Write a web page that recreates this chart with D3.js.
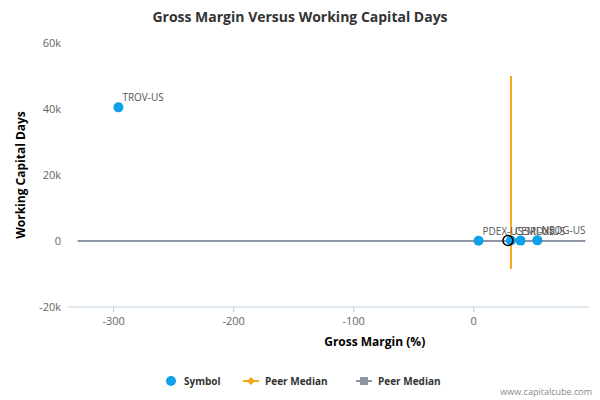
<!DOCTYPE html><html><head><meta charset="utf-8"><script src="https://cdn.jsdelivr.net/npm/d3@7"></script>
<style>body{margin:0;background:#fff}text{font-family:"Open Sans",Arial,sans-serif}</style></head><body><svg id="c" width="600" height="400"></svg>
<script>
const names=["TROV-US","PDEX-US","CEMI-US","SRDX-US","NEOG-US"];
const gm=[-296,4,31,39,53];
const wcd=[40500,100,150,120,200];
const medX=31, medY=0;
const xTicks=[-300,-200,-100,0];
const yTicks=[-20000,0,20000,40000,60000];
const svg=d3.select("#c");
const x=d3.scaleLinear().domain([-338,96]).range([68,589]);
const y=d3.scaleLinear().domain([-20000,60000]).range([307,43]);
svg.append("text").attr("x",300).attr("y",22).attr("text-anchor","middle").style("font-size","14px").style("font-weight","bold").attr("fill","#333").text("Gross Margin Versus Working Capital Days");
svg.append("line").attr("x1",68).attr("x2",589).attr("y1",y(-20000)).attr("y2",y(-20000)).attr("stroke","#c0d0e0");
xTicks.forEach(t=>{svg.append("line").attr("x1",x(t)).attr("x2",x(t)).attr("y1",307).attr("y2",312).attr("stroke","#c0d0e0");
svg.append("text").attr("x",x(t)).attr("y",325).attr("text-anchor","middle").style("font-size","11px").attr("fill","#666").text(t);});
yTicks.forEach(t=>svg.append("text").attr("x",61).attr("y",y(t)+4).attr("text-anchor","end").style("font-size","11px").attr("fill","#666").text(t===0?"0":(t/1000)+"k"));
svg.append("text").attr("x",x(-100)+21).attr("y",346).attr("text-anchor","middle").style("font-size","12px").style("font-weight","bold").attr("fill","#000").text("Gross Margin (%)");
svg.append("text").attr("transform","translate(25,175) rotate(-90)").attr("text-anchor","middle").style("font-size","12px").style("font-weight","bold").attr("fill","#000").text("Working Capital Days");
svg.append("line").attr("x1",x(-330)).attr("x2",x(93)).attr("y1",y(medY)).attr("y2",y(medY)).attr("stroke","#8e96a6").attr("stroke-width",2);
svg.append("line").attr("x1",x(medX)).attr("x2",x(medX)).attr("y1",y(50000)).attr("y2",y(-8500)).attr("stroke","#f7a71e").attr("stroke-width",2);
names.forEach((n,i)=>{
 svg.append("circle").attr("cx",x(gm[i])).attr("cy",y(wcd[i])).attr("r",5).attr("fill","#0fa0ea");
 svg.append("text").attr("x",x(gm[i])+4).attr("y",y(wcd[i])-6).style("font-size","10px").attr("fill","#555").text(n);
});
svg.append("circle").attr("cx",x(gm[2])-3).attr("cy",y(wcd[2])).attr("r",5).attr("fill","none").attr("stroke","#000").attr("stroke-width",1.5);
// legend
svg.append("circle").attr("cx",171).attr("cy",381).attr("r",5).attr("fill","#0fa0ea");
svg.append("text").attr("x",184).attr("y",385).style("font-size","10px").style("font-weight","bold").attr("fill","#333").text("Symbol");
svg.append("line").attr("x1",243).attr("x2",259).attr("y1",381).attr("y2",381).attr("stroke","#f7a71e").attr("stroke-width",2);
svg.append("path").attr("d","M251,377L255,381L251,385L247,381Z").attr("fill","#f7a71e");
svg.append("text").attr("x",265).attr("y",385).style("font-size","10px").style("font-weight","bold").attr("fill","#333").text("Peer Median");
svg.append("line").attr("x1",356).attr("x2",372).attr("y1",381).attr("y2",381).attr("stroke","#8e96a6").attr("stroke-width",2);
svg.append("rect").attr("x",360).attr("y",377).attr("width",8).attr("height",8).attr("fill","#8e96a6");
svg.append("text").attr("x",378).attr("y",385).style("font-size","10px").style("font-weight","bold").attr("fill","#333").text("Peer Median");
svg.append("text").attr("x",592).attr("y",395).attr("text-anchor","end").style("font-size","9px").attr("fill","#888").text("www.capitalcube.com");
</script></body></html>
